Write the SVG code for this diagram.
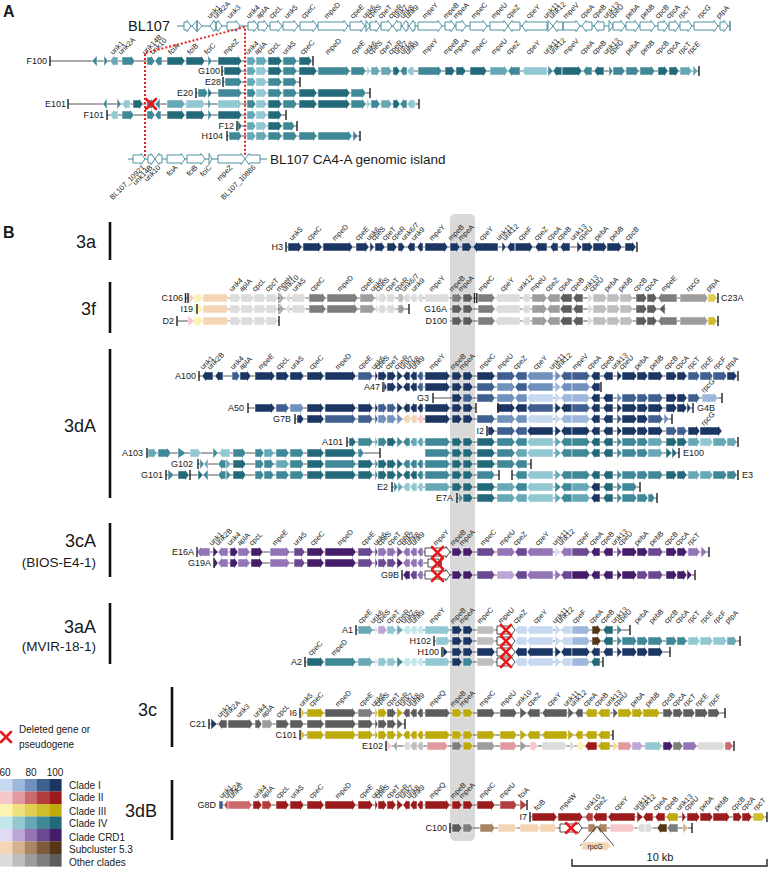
<svg xmlns="http://www.w3.org/2000/svg" width="769" height="869" viewBox="0 0 769 869">
<style>
text{font-family:"Liberation Sans",Arial,sans-serif;fill:#1a1a1a}
.gl text{font-size:7.3px;fill:#222}
.glE text{font-size:7.3px;fill:#222;text-anchor:end}
.nm{font-size:9px;text-anchor:end}
.ns{font-size:9px}
.gr{font-size:18px;text-anchor:end}
.gs{font-size:13.5px;text-anchor:end}
.pn{font-size:16px;font-weight:bold}
.lg{font-size:10px}
.r path,.r use{stroke:#fff;stroke-width:.5}
.ln,.r path.ln{stroke:#555;stroke-width:1;fill:none}
.tk,.r path.tk{stroke:#222;stroke-width:1.4;fill:none}
.bar{stroke:#111;stroke-width:2.6}
.r path.w{fill:#fff;stroke:#3f8797;stroke-width:.9}
.r .xb,.xb{fill:#fff;stroke:#222;stroke-width:.8}
.rx{stroke:#e8191c;stroke-width:2.6;stroke-linecap:round;fill:none}
.dt{stroke:#e3201b;stroke-width:2;stroke-dasharray:2 2;fill:none}
.b1{fill:#c6d9f0}.b2{fill:#9db8dc}.b3{fill:#7090be}.b4{fill:#3f5f90}.b5{fill:#1c3664}
.r1{fill:#f5c8cc}.r2{fill:#e19a9e}.r3{fill:#cb6a6c}.r4{fill:#b33c3d}.r5{fill:#9b1b1d}
.y1{fill:#fbf3b1}.y2{fill:#efe17d}.y3{fill:#dfce50}.y4{fill:#cfbd2c}.y5{fill:#bdab0c}
.t1{fill:#c2e7ed}.t2{fill:#92c8d2}.t3{fill:#66a8b6}.t4{fill:#3f8897}.t5{fill:#226a7a}
.p1{fill:#e2daf2}.p2{fill:#bca6d7}.p3{fill:#9375b7}.p4{fill:#6b4892}.p5{fill:#461d6b}
.s1{fill:#f4d6b6}.s2{fill:#d5b18f}.s3{fill:#aa8563}.s4{fill:#7e5c3b}.s5{fill:#553616}
.g1{fill:#dcdcdc}.g2{fill:#bebebe}.g3{fill:#9d9d9d}.g4{fill:#7e7e7e}.g5{fill:#5d5d5d}
</style>
<defs>
<path id="u1" d="M202 0L206 -5.5V-4H213V4H206V5.5z"/>
<path id="u2" d="M215 0L219 -5.5V-4H223V4H219V5.5z"/>
<path id="u4" d="M232 -4H236V-5.5L240 0L236 5.5V4H232z"/>
<path id="ap" d="M240 -4H247V-5.5L251 0L247 5.5V4H240z"/>
<path id="mE" d="M255 -4H271V-5.5L275 0L271 5.5V4H255z"/>
<path id="cL" d="M276 -4H285V-5.5L289 0L285 5.5V4H276z"/>
<path id="u5" d="M290 -4H300V-5.5L304 0L300 5.5V4H290z"/>
<path id="cC" d="M307 -4H320V-5.5L324 0L320 5.5V4H307z"/>
<path id="mD" d="M325 -4H352V-5.5L356 0L352 5.5V4H325z"/>
<path id="cE" d="M358 -4H369V-5.5L373 0L369 5.5V4H358z"/>
<path id="u6" d="M375 -5.5L378 0L375 5.5z"/>
<path id="cS" d="M378 -4H383V-5.5L387 0L383 5.5V4H378z"/>
<path id="cT" d="M387 -4H392V-5.5L396 0L392 5.5V4H387z"/>
<path id="cR" d="M397 -5.5L403 0L397 5.5z"/>
<path id="u7" d="M403 0L407 -5.5V-4H410V4H407V5.5z"/>
<path id="u8" d="M410 0L414 -5.5V-4H417V4H414V5.5z"/>
<path id="u9" d="M417 0L421 -5.5V-4H423V4H421V5.5z"/>
<path id="mY" d="M425 -4H446V-5.5L450 0L446 5.5V4H425z"/>
<path id="mB" d="M452 -4H458V-5.5L462 0L458 5.5V4H452z"/>
<path id="mA" d="M463 -4H469V-5.5L473 0L469 5.5V4H463z"/>
<path id="mC" d="M477 -4H491V-5.5L495 0L491 5.5V4H477z"/>
<path id="mU" d="M497 -4H511V-5.5L515 0L511 5.5V4H497z"/>
<path id="cZ" d="M515 0L519 -5.5V-4H527V4H519V5.5z"/>
<path id="cY" d="M527 0L531 -5.5V-4H553V4H531V5.5z"/>
<path id="u11" d="M555 -5.5L561 0L555 5.5z"/>
<path id="u12" d="M561 0L565 -5.5V-4H572V4H565V5.5z"/>
<path id="mV" d="M572 -4H586V-5.5L590 0L586 5.5V4H572z"/>
<path id="cA" d="M591 0L595 -5.5V-4H600V4H595V5.5z"/>
<path id="cB" d="M603 0L607 -5.5V-4H613V4H607V5.5z"/>
<path id="u13" d="M617 -5.5L622 0L617 5.5z"/>
<path id="cU" d="M622 -4H633V-5.5L637 0L633 5.5V4H622z"/>
<path id="pA" d="M637 -4H644V-5.5L648 0L644 5.5V4H637z"/>
<path id="pB" d="M648 -4H659V-5.5L663 0L659 5.5V4H648z"/>
<path id="bB" d="M666 -4H673V-5.5L677 0L673 5.5V4H666z"/>
<path id="bA" d="M677 -4H683V-5.5L687 0L683 5.5V4H677z"/>
<path id="rT" d="M688 -4H696V-5.5L700 0L696 5.5V4H688z"/>
<path id="rE" d="M700 -4H709V-5.5L713 0L709 5.5V4H700z"/>
<path id="rF" d="M713 -4H723V-5.5L727 0L723 5.5V4H713z"/>
<path id="pt" d="M727 -4H733V-5.5L737 0L733 5.5V4H727z"/>
<path id="cmU" d="M500 -4H513V-5.5L517 0L513 5.5V4H500z"/>
<path id="cu10" d="M520 -5.5L527 0L520 5.5z"/>
<path id="ccZ" d="M527 0L531 -5.5V-4H540V4H531V5.5z"/>
<path id="ccY" d="M542 0L546 -5.5V-4H567V4H546V5.5z"/>
<path id="cu11" d="M568 -5.5L574 0L568 5.5z"/>
<path id="cu12" d="M575 0L579 -5.5V-4H583V4H579V5.5z"/>
<path id="ccA" d="M585 0L589 -5.5V-4H597V4H589V5.5z"/>
<path id="ccB" d="M598 0L602 -5.5V-4H610V4H602V5.5z"/>
<path id="cu13" d="M613 -5.5L618 0L613 5.5z"/>
<path id="ccU" d="M618 -4H628V-5.5L632 0L628 5.5V4H618z"/>
<path id="cpA" d="M632 -4H639V-5.5L643 0L639 5.5V4H632z"/>
<path id="cpB" d="M643 -4H656V-5.5L660 0L656 5.5V4H643z"/>
<path id="cbB" d="M663 -4H669V-5.5L673 0L669 5.5V4H663z"/>
<path id="cbA" d="M673 -4H679V-5.5L683 0L679 5.5V4H673z"/>
<path id="crT" d="M683 -4H691V-5.5L695 0L691 5.5V4H683z"/>
<path id="crE" d="M695 -4H704V-5.5L708 0L704 5.5V4H695z"/>
<path id="crF" d="M708 -4H716V-5.5L720 0L716 5.5V4H708z"/>
<path id="a4" d="M247 -4H252V-5.5L256 0L252 5.5V4H247z"/>
<path id="aA" d="M256 -4H263V-5.5L267 0L263 5.5V4H256z"/>
<path id="aL" d="M268 -4H278V-5.5L282 0L278 5.5V4H268z"/>
<path id="a5" d="M283 -4H293V-5.5L297 0L293 5.5V4H283z"/>
<path id="aC" d="M299 -4H313V-5.5L317 0L313 5.5V4H299z"/>
<path id="aD" d="M318 -4H346V-5.5L350 0L346 5.5V4H318z"/>
<path id="aE" d="M351 -4H362V-5.5L366 0L362 5.5V4H351z"/>
<path id="aZ" d="M218 -4H238V-5.5L242 0L238 5.5V4H218z"/>
<path id="afA" d="M167 -4H181V-5.5L185 0L181 5.5V4H167z"/>
<path id="afB" d="M186 -4H201V-5.5L205 0L201 5.5V4H186z"/>
<path id="afC" d="M208 -5.5L212 0L208 5.5z"/>
<path id="a14" d="M147 -4H151V-5.5L155 0L151 5.5V4H147z"/>
<path id="a10" d="M155 0L159 -5.5V-4H162V4H159V5.5z"/>
<g id="f3L"><path class="y1" d="M194 -4H199V-5.5L203 0L199 5.5V4H194z"/><path class="s1" d="M203 -4H225V-5.5L229 0L225 5.5V4H203z"/><path class="g1" d="M230 -4H237V-5.5L241 0L237 5.5V4H230zM241 -4H250V-5.5L254 0L250 5.5V4H241zM254 -4H262V-5.5L266 0L262 5.5V4H254zM266 -4H274V-5.5L278 0L274 5.5V4H266z"/></g>
<g id="f3M"><path class="tk" d="M279 -5V5" style="stroke-width:.8"/><path class="g3" d="M280 -5.5L284 0L280 5.5z"/><path class="g1" d="M290 -5.5L285 0L290 5.5zM292 -4H302V-5.5L306 0L302 5.5V4H292zM376 -5.5L379 0L376 5.5zM379 -4H383V-5.5L387 0L383 5.5V4H379zM387 -4H392V-5.5L396 0L392 5.5V4H387z"/><path class="g4" d="M309 -4H322V-5.5L326 0L322 5.5V4H309zM327 -4H354V-5.5L358 0L354 5.5V4H327z"/><path class="g3" d="M360 -4H371V-5.5L375 0L371 5.5V4H360z"/></g>
<g id="f3R"><path class="g4" d="M478 -4H491V-5.5L495 0L491 5.5V4H478z"/><path class="g1" d="M495 0L499 -5.5V-4H520V4H499V5.5zM522 0L526 -5.5V-4H530V4H526V5.5zM588 -5.5L593 0L588 5.5z"/><path class="g3" d="M532 -4H543V-5.5L547 0L543 5.5V4H532zM547 0L551 -5.5V-4H560V4H551V5.5z"/><path class="g5" d="M560 0L564 -5.5V-4H572V4H564V5.5zM573 0L577 -5.5V-4H583V4H577V5.5zM636 -4H643V-5.5L647 0L643 5.5V4H636zM647 -4H653V-5.5L657 0L653 5.5V4H647z"/><path class="g2" d="M593 -4H603V-5.5L607 0L603 5.5V4H593zM607 -4H616V-5.5L620 0L616 5.5V4H607zM620 -4H629V-5.5L633 0L629 5.5V4H620z"/></g>
<path id="fmE" d="M658 0L662 -5.5V-4H677V4H662V5.5z"/>
<path id="frG" d="M680 -4H704V-5.5L708 0L704 5.5V4H680z"/>
<path id="fpt" d="M708 -4H713V-5.5L717 0L713 5.5V4H708z"/>
</defs>
<rect width="769" height="869" fill="#fff"/>

<!-- Panel A -->
<text class="pn" x="3" y="17">A</text>
<text x="170" y="31" style="font-size:14.5px;text-anchor:end">BL107</text>
<g id="BL107" class="r" transform="translate(0,26)">
<path class="ln" d="M177 0H730" style="stroke:#3f8797"/>
<path class="w" d="M184 -4H187V-5.5L191 0L187 5.5V4H184zM197 -5.5L192 0L197 5.5zM197 -5.5L202 0L197 5.5zM210 0L214 -5.5V-4H216V4H214V5.5zM216 -4H218V-5.5L222 0L218 5.5V4H216zM227 -4H236V-5.5L240 0L236 5.5V4H227zM248 -4H254V-5.5L258 0L254 5.5V4H248zM258 -4H264V-5.5L268 0L264 5.5V4H258zM270 -4H278V-5.5L282 0L278 5.5V4H270zM283 -4H294V-5.5L298 0L294 5.5V4H283zM300 -4H313V-5.5L317 0L313 5.5V4H300zM318 -4H344V-5.5L348 0L344 5.5V4H318zM350 -4H361V-5.5L365 0L361 5.5V4H350zM366 -5.5L370 0L366 5.5zM370 -4H376V-5.5L380 0L376 5.5V4H370zM381 -4H388V-5.5L392 0L388 5.5V4H381zM393 0L397 -5.5V-4H401V4H397V5.5zM402 0L406 -5.5V-4H408V4H406V5.5zM409 0L413 -5.5V-4H415V4H413V5.5zM418 -4H438V-5.5L442 0L438 5.5V4H418zM445 -4H451V-5.5L455 0L451 5.5V4H445zM456 -4H462V-5.5L466 0L462 5.5V4H456zM470 -4H483V-5.5L487 0L483 5.5V4H470zM490 -4H504V-5.5L508 0L504 5.5V4H490zM508 0L512 -5.5V-4H520V4H512V5.5zM522 0L526 -5.5V-4H547V4H526V5.5zM548 -5.5L553 0L548 5.5zM553 0L557 -5.5V-4H563V4H557V5.5zM563 -4H576V-5.5L580 0L576 5.5V4H563zM582 0L586 -5.5V-4H592V4H586V5.5zM594 0L598 -5.5V-4H604V4H598V5.5zM609 -5.5L613 0L609 5.5zM613 -4H621V-5.5L625 0L621 5.5V4H613zM626 -4H635V-5.5L639 0L635 5.5V4H626zM640 -4H651V-5.5L655 0L651 5.5V4H640zM658 -4H664V-5.5L668 0L664 5.5V4H658zM669 -4H675V-5.5L679 0L675 5.5V4H669zM680 -4H688V-5.5L692 0L688 5.5V4H680zM694 -4H714V-5.5L718 0L714 5.5V4H694zM720 -4H724V-5.5L728 0L724 5.5V4H720z"/>
<path class="tk" d="M730 -5V5" style="stroke:#3f8797"/>
</g>
<g class="gl" transform="translate(0,19)">
<text transform="translate(210) rotate(-45)">unk1</text><text transform="translate(216) rotate(-45)">unk2A</text><text transform="translate(230) rotate(-45)">unk3</text><text transform="translate(249) rotate(-45)">unk4</text><text transform="translate(259) rotate(-45)">aplA</text><text transform="translate(272) rotate(-45)">cpcL</text><text transform="translate(287) rotate(-45)">unk5</text><text transform="translate(304) rotate(-45)">cpeC</text><text transform="translate(327) rotate(-45)">mpeD</text><text transform="translate(353) rotate(-45)">cpeE</text><text transform="translate(365) rotate(-45)">unk6</text><text transform="translate(370) rotate(-45)">cpeS</text><text transform="translate(381) rotate(-45)">cpeT</text><text transform="translate(391) rotate(-45)">cpeR</text><text transform="translate(397) rotate(-45)">unk7</text><text transform="translate(403) rotate(-45)">unk8</text><text transform="translate(408) rotate(-45)">unk9</text><text transform="translate(425) rotate(-45)">mpeY</text><text transform="translate(446) rotate(-45)">mpeB</text><text transform="translate(456) rotate(-45)">mpeA</text><text transform="translate(474) rotate(-45)">mpeC</text><text transform="translate(494) rotate(-45)">mpeU</text><text transform="translate(509) rotate(-45)">cpeZ</text><text transform="translate(529) rotate(-45)">cpeY</text><text transform="translate(546) rotate(-45)">unk11</text><text transform="translate(552) rotate(-45)">unk12</text><text transform="translate(566) rotate(-45)">mpeV</text><text transform="translate(583) rotate(-45)">cpeA</text><text transform="translate(595) rotate(-45)">cpeB</text><text transform="translate(606) rotate(-45)">unk13</text><text transform="translate(612) rotate(-45)">cpeU</text><text transform="translate(628) rotate(-45)">pebA</text><text transform="translate(643) rotate(-45)">pebB</text><text transform="translate(658) rotate(-45)">cpcB</text><text transform="translate(669) rotate(-45)">cpcA</text><text transform="translate(681) rotate(-45)">rpcT</text><text transform="translate(700) rotate(-45)">rpcG</text><text transform="translate(719) rotate(-45)">ptpA</text>
</g>
<g class="gl" transform="translate(0,55)">
<text transform="translate(113) rotate(-45)">unk1</text><text transform="translate(121) rotate(-45)">unk2A</text><text transform="translate(145) rotate(-45)">unk14B</text><text transform="translate(153) rotate(-45)">unk10</text><text transform="translate(171) rotate(-45)">fciA</text><text transform="translate(190) rotate(-45)">fciB</text><text transform="translate(207) rotate(-45)">fciC</text><text transform="translate(226) rotate(-45)">mpeZ</text><text transform="translate(248) rotate(-45)">unk4</text><text transform="translate(257) rotate(-45)">aplA</text><text transform="translate(270) rotate(-45)">cpcL</text><text transform="translate(285) rotate(-45)">unk5</text><text transform="translate(303) rotate(-45)">cpeC</text><text transform="translate(328) rotate(-45)">mpeD</text><text transform="translate(354) rotate(-45)">cpeE</text><text transform="translate(366) rotate(-45)">unk6</text><text transform="translate(371) rotate(-45)">cpeS</text><text transform="translate(382) rotate(-45)">cpeT</text><text transform="translate(391) rotate(-45)">cpeR</text><text transform="translate(397) rotate(-45)">unk7</text><text transform="translate(403) rotate(-45)">unk8</text><text transform="translate(408) rotate(-45)">unk9</text><text transform="translate(425) rotate(-45)">mpeY</text><text transform="translate(446) rotate(-45)">mpeB</text><text transform="translate(456) rotate(-45)">mpeA</text><text transform="translate(474) rotate(-45)">mpeC</text><text transform="translate(494) rotate(-45)">mpeU</text><text transform="translate(509) rotate(-45)">cpeZ</text><text transform="translate(529) rotate(-45)">cpeY</text><text transform="translate(546) rotate(-45)">unk11</text><text transform="translate(552) rotate(-45)">unk12</text><text transform="translate(566) rotate(-45)">mpeV</text><text transform="translate(583) rotate(-45)">cpeA</text><text transform="translate(595) rotate(-45)">cpeB</text><text transform="translate(606) rotate(-45)">unk13</text><text transform="translate(612) rotate(-45)">cpeU</text><text transform="translate(628) rotate(-45)">pebA</text><text transform="translate(643) rotate(-45)">pebB</text><text transform="translate(658) rotate(-45)">cpcB</text><text transform="translate(669) rotate(-45)">cpcA</text><text transform="translate(681) rotate(-45)">rpcT</text><text transform="translate(690) rotate(-45)">rpcE</text>
</g>
<g id="F100" class="r t4" transform="translate(0,61)">
<path class="ln" d="M50 0H313"/>
<path d="M97 -5.5L92 0L97 5.5zM104 -5.5L108 0L104 5.5zM122 -4H131V-5.5L135 0L131 5.5V4H122z"/>
<path class="t3" d="M110 0L114 -5.5V-4H118V4H114V5.5z"/>
<use href="#a14"/><use href="#a10"/><use href="#afA" class="t5"/><use href="#afB" class="t5"/><use href="#afC"/><use href="#aZ" class="t5"/><use href="#a4" class="t3"/><use href="#aA" class="t3"/><use href="#aL" class="t5"/><use href="#a5"/>
<path class="t5" d="M299 -4H308V-5.5L312 0L308 5.5V4H299z"/>
<path class="tk" d="M50 -5V5M313 -5V5"/>
<text class="nm" x="47" y="3">F100</text>
</g>
<g id="G100" class="r t4" transform="translate(0,71)">
<path class="ln" d="M222 0H699"/>
<path class="t5" d="M224 -4H238V-5.5L242 0L238 5.5V4H224zM393 -4H396V-5.5L400 0L396 5.5V4H393zM445 -4H451V-5.5L455 0L451 5.5V4H445zM456 -4H462V-5.5L466 0L462 5.5V4H456zM470 -4H483V-5.5L487 0L483 5.5V4H470zM553 0L557 -5.5V-4H562V4H557V5.5zM562 -4H578V-5.5L582 0L578 5.5V4H562zM594 0L598 -5.5V-4H604V4H598V5.5zM658 -4H664V-5.5L668 0L664 5.5V4H658zM669 -4H675V-5.5L679 0L675 5.5V4H669z"/>
<path d="M400 0L404 -5.5V-4H407V4H404V5.5zM418 -4H438V-5.5L442 0L438 5.5V4H418zM508 0L512 -5.5V-4H520V4H512V5.5zM548 -5.5L553 0L548 5.5zM583 0L587 -5.5V-4H592V4H587V5.5zM609 -5.5L613 0L609 5.5zM613 -4H621V-5.5L625 0L621 5.5V4H613zM626 -4H635V-5.5L639 0L635 5.5V4H626zM640 -4H651V-5.5L655 0L651 5.5V4H640z"/>
<path class="t3" d="M371 -4H376V-5.5L380 0L376 5.5V4H371zM381 -4H388V-5.5L392 0L388 5.5V4H381zM490 -4H504V-5.5L508 0L504 5.5V4H490zM680 -4H688V-5.5L692 0L688 5.5V4H680zM693 -5.5L698 0L693 5.5z"/>
<path class="t2" d="M367 -5.5L370 0L367 5.5zM407 0L411 -5.5V-4H414V4H411V5.5zM522 0L526 -5.5V-4H547V4H526V5.5z"/>
<use href="#a4" class="t3"/><use href="#aA" class="t2"/><use href="#aL" class="t5"/><use href="#a5"/><use href="#aC" class="t5"/><use href="#aD"/><use href="#aE"/>
<path class="tk" d="M222 -5V5M699 -5V5"/>
<text class="nm" x="220" y="3">G100</text>
</g>
<g id="E28" class="r t4" transform="translate(0,82)">
<path class="ln" d="M223 0H300"/>
<path d="M225 -4H238V-5.5L242 0L238 5.5V4H225z"/>
<use href="#a4" class="t3"/><use href="#aA" class="t2"/><use href="#aL"/><use href="#a5"/>
<path class="tk" d="M223 -5V5M300 -5V5"/>
<text class="nm" x="221" y="3">E28</text>
</g>
<g id="E20" class="r t4" transform="translate(0,93)">
<path class="ln" d="M196 0H370"/>
<path d="M198 -4H204V-5.5L208 0L204 5.5V4H198z"/>
<use href="#afC" class="t5"/><use href="#aZ"/><use href="#a4"/><use href="#aA" class="t2"/><use href="#aL"/><use href="#a5"/><use href="#aC" class="t5"/><use href="#aD" class="t5"/><use href="#aE"/>
<path class="tk" d="M196 -5V5M370 -5V5"/>
<text class="nm" x="193" y="3">E20</text>
</g>
<g id="E101" class="r t4" transform="translate(0,104)">
<path class="ln" d="M68 0H419"/>
<path d="M107 -5.5L103 0L107 5.5zM117 -5.5L121 0L117 5.5zM160 -5.5L155 0L160 5.5zM208 -5.5L211 0L208 5.5zM371 -4H376V-5.5L380 0L376 5.5V4H371zM400 0L404 -5.5V-4H407V4H404V5.5z"/>
<path class="t2" d="M122 0L126 -5.5V-4H130V4H126V5.5zM367 -5.5L370 0L367 5.5zM407 0L411 -5.5V-4H415V4H411V5.5z"/>
<path class="t5" d="M133 -4H139V-5.5L143 0L139 5.5V4H133zM393 -4H396V-5.5L400 0L396 5.5V4H393z"/>
<path class="t3" d="M381 -4H388V-5.5L392 0L388 5.5V4H381z"/>
<use href="#a14"/><use href="#afA" class="t3"/><use href="#afB" class="t2"/><use href="#aZ" class="t2"/><use href="#a4"/><use href="#aA" class="t2"/><use href="#aL" class="t5"/><use href="#a5"/><use href="#aC" class="t5"/><use href="#aD" class="t5"/><use href="#aE"/>
<path class="tk" d="M68 -5V5M419 -5V5"/>
<text class="nm" x="66" y="3">E101</text>
</g>
<g id="F101" class="r t4" transform="translate(0,115)">
<path class="ln" d="M107 0H286"/>
<path class="t2" d="M110 0L114 -5.5V-4H118V4H114V5.5z"/>
<path d="M122 -4H130V-5.5L134 0L130 5.5V4H122zM155 0L159 -5.5V-4H161V4H159V5.5z"/>
<use href="#a14"/><use href="#afA" class="t5"/><use href="#afB" class="t5"/><use href="#afC"/><use href="#aZ" class="t5"/><use href="#a4" class="t3"/><use href="#aA" class="t2"/><use href="#aL" class="t5"/>
<path class="tk" d="M107 -5V5M286 -5V5"/>
<text class="nm" x="104" y="3">F101</text>
</g>
<g id="F12" class="r t4" transform="translate(0,126)">
<path class="ln" d="M237 0H297"/>
<path class="t5" d="M238 -5.5L242 0L238 5.5z"/>
<use href="#a4" class="t3"/><use href="#aA" class="t2"/><use href="#aL" class="t5"/>
<path d="M283 -4H291V-5.5L295 0L291 5.5V4H283z"/>
<path class="tk" d="M237 -5V5M297 -5V5"/>
<text class="nm" x="234" y="3">F12</text>
</g>
<g id="H104" class="r t4" transform="translate(0,136)">
<path class="ln" d="M227 0H360"/>
<path d="M229 -4H238V-5.5L242 0L238 5.5V4H229zM318 -4H348V-5.5L352 0L348 5.5V4H318zM353 -5.5L358 0L353 5.5z"/>
<use href="#a4" class="t3"/><use href="#aA" class="t3"/><use href="#aL"/><use href="#a5"/><use href="#aC"/>
<path class="tk" d="M227 -5V5M360 -5V5"/>
<text class="nm" x="223" y="3">H104</text>
</g>
<g id="island" class="r" transform="translate(0,159)">
<path class="ln" d="M128 0H267" style="stroke:#3f8797"/>
<path class="w" d="M133 -4H141V-5.5L145 0L141 5.5V4H133zM148 -4H151V-5.5L155 0L151 5.5V4H148zM155 0L159 -5.5V-4H162V4H159V5.5zM167 -4H181V-5.5L185 0L181 5.5V4H167zM187 -4H201V-5.5L205 0L201 5.5V4H187zM209 -5.5L212 0L209 5.5zM218 -4H241V-5.5L245 0L241 5.5V4H218zM245 0L249 -5.5V-4H260V4H249V5.5z"/>
</g>
<text x="270" y="164" style="font-size:13.5px">BL107 CA4-A genomic island</text>
<g class="glE" transform="translate(0,168)">
<text transform="translate(145) rotate(-45)">BL107_10921</text><text transform="translate(153) rotate(-45)">unk14B</text><text transform="translate(161) rotate(-45)">unk10</text><text transform="translate(178) rotate(-45)">fciA</text><text transform="translate(198) rotate(-45)">fciB</text><text transform="translate(212) rotate(-45)">fciC</text><text transform="translate(233) rotate(-45)">mpeZ</text><text transform="translate(256) rotate(-45)">BL107_10886</text>
</g>
<path class="dt" d="M145 156V53L245 27V156"/>
<path class="rx" d="M146 99l10 10m0-10l-10 10"/>

<!-- Panel B -->
<text class="pn" x="3" y="238">B</text>
<rect x="450" y="214" width="25" height="627" rx="5" fill="#d9d9d9"/>
<path class="bar" d="M110 222V260M110 282V333M110 349V498M110 523V577M110 603V664M172 687V747M172 780V840"/>
<text class="gr" x="96" y="248">3a</text>
<text class="gr" x="96" y="315">3f</text>
<text class="gr" x="96" y="432">3dA</text>
<text class="gr" x="96" y="547">3cA</text>
<text class="gs" x="96" y="567">(BIOS-E4-1)</text>
<text class="gr" x="96" y="633">3aA</text>
<text class="gs" x="96" y="651">(MVIR-18-1)</text>
<text class="gr" x="157" y="716">3c</text>
<text class="gr" x="157" y="817">3dB</text>

<g id="H3" class="r b5" transform="translate(0,247)">
<path class="ln" d="M286 0H637"/>
<path d="M288 -4H298V-5.5L302 0L298 5.5V4H288zM303 -4H318V-5.5L322 0L318 5.5V4H303zM323 -4H349V-5.5L353 0L349 5.5V4H323zM356 -4H365V-5.5L369 0L365 5.5V4H356zM370 -5.5L374 0L370 5.5zM375 -4H381V-5.5L385 0L381 5.5V4H375zM387 -4H393V-5.5L397 0L393 5.5V4H387zM398 -4H401V-5.5L405 0L401 5.5V4H398zM407 0L411 -5.5V-4H415V4H411V5.5zM417 0L421 -5.5V-4H423V4H421V5.5zM425 -4H444V-5.5L448 0L444 5.5V4H425zM450 -4H456V-5.5L460 0L456 5.5V4H450zM462 -4H468V-5.5L472 0L468 5.5V4H462zM473 0L477 -5.5V-4H498V4H477V5.5zM502 -5.5L506 0L502 5.5zM507 0L511 -5.5V-4H515V4H511V5.5zM515 -4H529V-5.5L533 0L529 5.5V4H515zM535 0L539 -5.5V-4H547V4H539V5.5zM550 0L554 -5.5V-4H558V4H554V5.5zM560 0L564 -5.5V-4H570V4H564V5.5zM577 -5.5L582 0L577 5.5zM582 -4H589V-5.5L593 0L589 5.5V4H582zM593 -4H603V-5.5L607 0L603 5.5V4H593zM607 -4H618V-5.5L622 0L618 5.5V4H607zM625 -4H632V-5.5L636 0L632 5.5V4H625z"/>
<path class="tk" d="M286 -5V5M637 -5V5"/>
<text class="nm" x="283" y="3">H3</text>
</g>
<g class="gl" transform="translate(0,241)">
<text transform="translate(292) rotate(-45)">unk5</text><text transform="translate(310) rotate(-45)">cpeC</text><text transform="translate(335) rotate(-45)">mpeD</text><text transform="translate(358) rotate(-45)">cpeE</text><text transform="translate(369) rotate(-45)">unk6</text><text transform="translate(374) rotate(-45)">cpeS</text><text transform="translate(385) rotate(-45)">cpeT</text><text transform="translate(394) rotate(-45)">cpeR</text><text transform="translate(404) rotate(-45)">unk6/7</text><text transform="translate(414) rotate(-45)">unk9</text><text transform="translate(432) rotate(-45)">mpeY</text><text transform="translate(451) rotate(-45)">mpeB</text><text transform="translate(461) rotate(-45)">mpeA</text><text transform="translate(482) rotate(-45)">cpeY</text><text transform="translate(499) rotate(-45)">unk11</text><text transform="translate(505) rotate(-45)">unk12</text><text transform="translate(521) rotate(-45)">cpeF</text><text transform="translate(537) rotate(-45)">cpeZ</text><text transform="translate(550) rotate(-45)">cpeA</text><text transform="translate(560) rotate(-45)">cpeB</text><text transform="translate(573) rotate(-45)">unk13</text><text transform="translate(581) rotate(-45)">cpeU</text><text transform="translate(597) rotate(-45)">pebA</text><text transform="translate(612) rotate(-45)">pebB</text><text transform="translate(628) rotate(-45)">cpcB</text>
</g>

<g id="C106" class="r g1" transform="translate(0,298)">
<path class="ln" d="M186 0H718"/>
<path class="r1" d="M189 -5.5L194 0L189 5.5z"/>
<use href="#f3L"/><use href="#f3M"/>
<path class="g2" d="M398 -4H401V-5.5L405 0L401 5.5V4H398z"/>
<use href="#u7"/><use href="#u8"/><use href="#u9"/><use href="#mY"/><use href="#mB" class="g4"/><use href="#mA" class="g5"/>
<use href="#f3R"/><use href="#fmE" class="g4"/><use href="#frG" class="g3"/><use href="#fpt" class="y3"/>
<path class="tk" d="M185.5 -5V5M188 -5V5M474.5 -5V5M476.8 -5V5M718 -5V5"/>
<text class="nm" x="183" y="3">C106</text>
<text class="ns" x="721" y="3">C23A</text>
</g>
<g id="I19" class="r g1" transform="translate(0,309)">
<path class="ln" d="M197 0H409M450 0H666"/>
<use href="#f3L"/><use href="#f3M"/>
<path class="g3" d="M398 -4H401V-5.5L405 0L401 5.5V4H398z"/>
<use href="#mB" class="g5"/><use href="#mA" class="g5"/><use href="#f3R"/>
<path class="g5" d="M665 -5.5L659 0L665 5.5z"/>
<path class="tk" d="M197 -5V5M409 -5V5"/>
<text class="nm" x="193" y="3">I19</text>
<text class="nm" x="447" y="3">G16A</text>
</g>
<g id="D2" class="r g1" transform="translate(0,321)">
<path class="ln" d="M177 0H279M450 0H718"/>
<path class="r1" d="M188 -5.5L194 0L188 5.5z"/>
<use href="#f3L"/>
<use href="#mB" class="g5"/><use href="#mA" class="g5"/><use href="#f3R"/><use href="#fmE" class="g4"/><use href="#frG" class="g3"/><use href="#fpt" class="y4"/>
<path class="tk" d="M177 -5V5M279 -5V5M718 -5V5"/>
<text class="nm" x="174" y="3">D2</text>
<text class="nm" x="447" y="3">D100</text>
</g>
<g class="gl" transform="translate(0,292)">
<text transform="translate(232) rotate(-45)">unk4</text><text transform="translate(242) rotate(-45)">aplA</text><text transform="translate(255) rotate(-45)">cpcL</text><text transform="translate(268) rotate(-45)">cpcT</text><text transform="translate(279) rotate(-45)">mpeH</text><text transform="translate(285) rotate(-45)">unk10</text><text transform="translate(295) rotate(-45)">unk5</text><text transform="translate(313) rotate(-45)">cpeC</text><text transform="translate(340) rotate(-45)">mpeD</text><text transform="translate(363) rotate(-45)">cpeE</text><text transform="translate(373) rotate(-45)">unk6</text><text transform="translate(378) rotate(-45)">cpeS</text><text transform="translate(388) rotate(-45)">cpeT</text><text transform="translate(397) rotate(-45)">cpeR</text><text transform="translate(404) rotate(-45)">unk6/7</text><text transform="translate(414) rotate(-45)">unk9</text><text transform="translate(432) rotate(-45)">mpeY</text><text transform="translate(452) rotate(-45)">mpeB</text><text transform="translate(461) rotate(-45)">mpeA</text><text transform="translate(481) rotate(-45)">mpeC</text><text transform="translate(503) rotate(-45)">cpeY</text><text transform="translate(520) rotate(-45)">unk12</text><text transform="translate(533) rotate(-45)">mpeU</text><text transform="translate(548) rotate(-45)">cpeZ</text><text transform="translate(561) rotate(-45)">cpeA</text><text transform="translate(573) rotate(-45)">cpeB</text><text transform="translate(585) rotate(-45)">unk13</text><text transform="translate(592) rotate(-45)">cpeU</text><text transform="translate(607) rotate(-45)">pebA</text><text transform="translate(621) rotate(-45)">pebB</text><text transform="translate(636) rotate(-45)">cpcB</text><text transform="translate(647) rotate(-45)">cpcA</text><text transform="translate(664) rotate(-45)">mpeE</text><text transform="translate(689) rotate(-45)">rpcG</text><text transform="translate(709) rotate(-45)">ptpA</text>
</g>

<g class="gl" transform="translate(0,370)">
<text transform="translate(203) rotate(-45)">unk1</text><text transform="translate(210) rotate(-45)">unk2B</text><text transform="translate(233) rotate(-45)">unk4</text><text transform="translate(242) rotate(-45)">aplA</text><text transform="translate(261) rotate(-45)">mpeE</text><text transform="translate(279) rotate(-45)">cpcL</text><text transform="translate(293) rotate(-45)">unk5</text><text transform="translate(312) rotate(-45)">cpeC</text><text transform="translate(338) rotate(-45)">mpeD</text><text transform="translate(361) rotate(-45)">cpeE</text><text transform="translate(374) rotate(-45)">unk6</text><text transform="translate(378) rotate(-45)">cpeS</text><text transform="translate(388) rotate(-45)">cpeT</text><text transform="translate(397) rotate(-45)">cpeR</text><text transform="translate(403) rotate(-45)">unk7</text><text transform="translate(409) rotate(-45)">unk8</text><text transform="translate(414) rotate(-45)">unk9</text><text transform="translate(432) rotate(-45)">mpeY</text><text transform="translate(453) rotate(-45)">mpeB</text><text transform="translate(462) rotate(-45)">mpeA</text><text transform="translate(482) rotate(-45)">mpeC</text><text transform="translate(500) rotate(-45)">mpeU</text><text transform="translate(516) rotate(-45)">cpeZ</text><text transform="translate(536) rotate(-45)">cpeY</text><text transform="translate(552) rotate(-45)">unk11</text><text transform="translate(558) rotate(-45)">unk12</text><text transform="translate(575) rotate(-45)">mpeV</text><text transform="translate(590) rotate(-45)">cpeA</text><text transform="translate(603) rotate(-45)">cpeB</text><text transform="translate(614) rotate(-45)">unk13</text><text transform="translate(622) rotate(-45)">cpeU</text><text transform="translate(637) rotate(-45)">pebA</text><text transform="translate(652) rotate(-45)">pebB</text><text transform="translate(667) rotate(-45)">cpcB</text><text transform="translate(678) rotate(-45)">cpcA</text><text transform="translate(690) rotate(-45)">rpcT</text><text transform="translate(703) rotate(-45)">rpcE</text><text transform="translate(716) rotate(-45)">rpcF</text><text transform="translate(728) rotate(-45)">ptpA</text>
</g>
<g class="gl"><text transform="translate(704,393) rotate(-45)">rpcG</text><text transform="translate(704,426) rotate(-45)">rpcG</text></g>
<g id="A100" class="r b5" transform="translate(0,376)">
<path class="ln" d="M199 0H738"/>
<use href="#u1"/><use href="#u2"/><use href="#u4" class="b4"/><use href="#ap"/><use href="#mE"/><use href="#cL"/><use href="#u5"/><use href="#cC"/><use href="#mD"/><use href="#cE" class="b4"/><use href="#u6"/><use href="#cS"/><use href="#cT"/><use href="#cR"/><use href="#u7"/><use href="#u8"/><use href="#u9" class="b4"/><use href="#mY"/><use href="#mB"/><use href="#mA"/><use href="#mC"/><use href="#mU" class="b4"/><use href="#cZ" class="b4"/><use href="#cY" class="b3"/><use href="#u11" class="b3"/><use href="#u12" class="b4"/><use href="#mV" class="b4"/><use href="#cA"/><use href="#cB"/><use href="#u13"/><use href="#cU"/><use href="#pA"/><use href="#pB"/><use href="#bB"/><use href="#bA"/><use href="#rT" class="b4"/><use href="#rE" class="b4"/><use href="#rF" class="b4"/><use href="#pt"/>
<path class="tk" d="M199 -5V5M738 -5V5"/>
<text class="nm" x="196" y="3">A100</text>
</g>
<g id="A47" class="r b5" transform="translate(0,387)">
<path class="ln" d="M383 0H601"/>
<path d="M384 -5.5L387 0L384 5.5z"/>
<use href="#cT"/><use href="#cR"/><use href="#u7"/><use href="#u8"/><use href="#u9" class="b4"/><use href="#mY"/><use href="#mB"/><use href="#mA"/><use href="#mC" class="b4"/><use href="#mU" class="b3"/><use href="#cZ" class="b4"/><use href="#cY" class="b3"/><use href="#u11" class="b2"/><use href="#u12" class="b3"/><use href="#mV" class="b3"/><use href="#cA"/>
<path class="tk" d="M383 -5V5M601 -5V5"/>
<text class="nm" x="380" y="3">A47</text>
</g>
<g id="G3" class="r b5" transform="translate(0,398)">
<path class="ln" d="M433 0H722"/>
<use href="#mB"/><use href="#mA" class="b4"/><use href="#mC" class="b4"/><use href="#mU" class="b3"/><use href="#cZ" class="b3"/><use href="#cY" class="b1"/><use href="#u11" class="b1"/><use href="#u12" class="b2"/><use href="#mV" class="b2"/><use href="#cA"/><use href="#cB"/><use href="#u13" class="b3"/><use href="#cU" class="b4"/><use href="#pA" class="b4"/><use href="#pB" class="b4"/><use href="#bB"/><use href="#bA"/><use href="#rT" class="b4"/>
<path class="b2" d="M702 -4H714V-5.5L718 0L714 5.5V4H702z"/>
<path class="tk" d="M433 -5V5M722 -5V5"/>
<text class="nm" x="429" y="3">G3</text>
</g>
<g id="A50" class="r b5" transform="translate(0,408)">
<path class="ln" d="M248 0H476M498 0H693"/>
<use href="#mE"/><use href="#cL" class="b4"/><use href="#u5" class="b3"/><use href="#cC"/><use href="#mD"/><use href="#cE"/><use href="#u6"/><use href="#cS" class="b4"/><use href="#cT" class="b4"/><use href="#cR"/><use href="#u7"/><use href="#u8"/><use href="#u9"/><use href="#mY"/><use href="#mB"/><use href="#mA"/>
<use href="#mU"/><use href="#cZ"/><use href="#cY" class="b4"/><use href="#u11"/><use href="#u12"/><use href="#mV" class="b4"/><use href="#cA"/><use href="#cB"/><use href="#u13"/><use href="#cU"/><use href="#pA"/><use href="#pB"/><use href="#bB"/><use href="#bA"/>
<path d="M687 -5.5L691 0L687 5.5z"/>
<path class="tk" d="M248 -5V5M476 -5V5M498 -5V5M693 -5V5"/>
<text class="nm" x="244" y="3">A50</text>
<text class="ns" x="697" y="3">G4B</text>
</g>
<g id="G7B" class="r b5" transform="translate(0,419)">
<path class="ln" d="M295 0H672"/>
<path d="M297 -4H300V-5.5L304 0L300 5.5V4H297z"/>
<use href="#cC"/><use href="#mD" class="b4"/><use href="#cE" class="b4"/><use href="#u6" class="b4"/><use href="#cS" class="b3"/><use href="#cT" class="b3"/><use href="#cR" class="b3"/><use href="#u7" class="s1"/><use href="#u8" class="s1"/><use href="#u9" class="r1"/><use href="#mY"/><use href="#mB"/><use href="#mA"/><use href="#mC" class="b4"/><use href="#mU" class="b3"/><use href="#cZ" class="b3"/><use href="#cY" class="b1"/><use href="#u11" class="b1"/><use href="#u12" class="b2"/><use href="#mV" class="b2"/><use href="#cA"/><use href="#cB"/><use href="#u13" class="b4"/><use href="#cU"/><use href="#pA"/><use href="#pB" class="b4"/>
<path class="b3" d="M664 -5.5L669 0L664 5.5z"/>
<path class="tk" d="M295 -5V5M672 -5V5"/>
<text class="nm" x="291" y="3">G7B</text>
</g>
<g id="I2" class="r b5" transform="translate(0,431)">
<path class="ln" d="M487 0H722"/>
<path d="M488 -4H491V-5.5L495 0L491 5.5V4H488z"/>
<use href="#mU" class="b4"/><use href="#cZ" class="b4"/><use href="#cY"/><use href="#u11"/><use href="#u12"/><use href="#mV"/><use href="#cA"/><use href="#cB"/><use href="#u13"/><use href="#cU"/><use href="#pA"/><use href="#pB"/><use href="#bB" class="b4"/><use href="#bA" class="b4"/><use href="#rT"/>
<path d="M700 -4H718V-5.5L722 0L718 5.5V4H700z"/>
<path class="tk" d="M487 -5V5"/>
<text class="nm" x="484" y="3">I2</text>
</g>
<g id="A101" class="r t4" transform="translate(0,442)">
<path class="ln" d="M347 0H738"/>
<path class="t5" d="M349 -4H352V-5.5L356 0L352 5.5V4H349z"/>
<use href="#cE"/><use href="#u6" class="t3"/><use href="#cS"/><use href="#cT" class="t5"/><use href="#cR"/><use href="#u7"/><use href="#u8" class="t3"/><use href="#u9" class="t3"/><use href="#mY"/><use href="#mB" class="t5"/><use href="#mA" class="t5"/><use href="#mC" class="t5"/><use href="#mU"/><use href="#cZ"/><use href="#cY" class="t2"/><use href="#u11" class="t3"/><use href="#u12"/><use href="#mV"/><use href="#cA" class="t5"/><use href="#cB" class="t5"/><use href="#u13"/><use href="#cU"/><use href="#pA"/><use href="#pB" class="t3"/><use href="#bB" class="t5"/><use href="#bA" class="t5"/><use href="#rT" class="t3"/><use href="#rE" class="t2"/><use href="#rF" class="t3"/><use href="#pt" class="t3"/>
<path class="tk" d="M347 -5V5M738 -5V5"/>
<text class="nm" x="343" y="3">A101</text>
</g>
<g id="A103" class="r t4" transform="translate(0,453)">
<path class="ln" d="M147 0H380M425 0H679"/>
<path class="t3" d="M148 -4H153V-5.5L157 0L153 5.5V4H148zM264 -4H270V-5.5L274 0L270 5.5V4H264z"/>
<path d="M158 -4H167V-5.5L171 0L167 5.5V4H158zM178 -5.5L186 0L178 5.5zM213 -5.5L218 0L213 5.5zM233 -4H242V-5.5L246 0L242 5.5V4H233zM255 -4H260V-5.5L264 0L260 5.5V4H255zM358 -4H360V-5.5L364 0L360 5.5V4H358z"/>
<path class="t2" d="M190 -4H197V-5.5L201 0L197 5.5V4H190zM219 0L223 -5.5V-4H230V4H223V5.5z"/>
<use href="#cL"/><use href="#u5"/><use href="#cC" class="t5"/><use href="#mD" class="t5"/>
<use href="#mY"/><use href="#mB" class="t5"/><use href="#mA" class="t5"/><use href="#mC" class="t5"/><use href="#mU"/><use href="#cZ" class="t3"/><use href="#cY" class="t2"/><use href="#u11" class="t3"/><use href="#u12"/><use href="#mV"/><use href="#cA" class="t5"/><use href="#cB" class="t5"/><use href="#u13"/><use href="#cU"/><use href="#pA"/><use href="#pB" class="t3"/>
<path class="t5" d="M666 -5.5L672 0L666 5.5zM672 -5.5L677 0L672 5.5z"/>
<path class="tk" d="M147 -5V5M380 -5V5M679 -5V5"/>
<text class="nm" x="143" y="3">A103</text>
<text class="ns" x="683" y="3">E100</text>
</g>
<g id="G102" class="r t4" transform="translate(0,464)">
<path class="ln" d="M198 0H531"/>
<path d="M200 -5.5L204 0L200 5.5zM218 0L222 -5.5V-4H226V4H222V5.5zM255 -4H260V-5.5L264 0L260 5.5V4H255zM264 -4H270V-5.5L274 0L270 5.5V4H264z"/>
<path class="t3" d="M208 -5.5L204 0L208 5.5zM226 -5.5L231 0L226 5.5z"/>
<path class="t5" d="M233 -4H242V-5.5L246 0L242 5.5V4H233z"/>
<use href="#cL" class="t3"/><use href="#u5"/><use href="#cC" class="t5"/><use href="#mD"/><use href="#cE" class="t5"/><use href="#u6"/><use href="#cS" class="t5"/><use href="#cT" class="t5"/><use href="#cR" class="t5"/><use href="#u7"/><use href="#u8"/><use href="#u9"/><use href="#mY"/><use href="#mB" class="t5"/><use href="#mA" class="t5"/><use href="#mC" class="t5"/><use href="#mU"/><use href="#cZ"/>
<path class="tk" d="M198 -5V5M531 -5V5"/>
<text class="nm" x="193" y="3">G102</text>
</g>
<g id="G101" class="r t4" transform="translate(0,475)">
<path class="ln" d="M166 0H499M512 0H738"/>
<path d="M168 -5.5L174 0L168 5.5zM208 -5.5L203 0L208 5.5zM218 0L222 -5.5V-4H226V4H222V5.5zM226 -5.5L231 0L226 5.5zM255 -4H260V-5.5L264 0L260 5.5V4H255zM264 -4H270V-5.5L274 0L270 5.5V4H264z"/>
<path class="t5" d="M178 -4H185V-5.5L189 0L185 5.5V4H178zM198 -5.5L203 0L198 5.5zM233 -4H242V-5.5L246 0L242 5.5V4H233z"/>
<use href="#cL"/><use href="#u5"/><use href="#cC" class="t5"/><use href="#mD" class="t5"/><use href="#cE" class="t5"/><use href="#u6"/><use href="#cS" class="t5"/><use href="#cT" class="t5"/><use href="#cR" class="t5"/><use href="#u7" class="t5"/><use href="#u8" class="t5"/><use href="#u9"/><use href="#mY"/><use href="#mB" class="t5"/><use href="#mA" class="t5"/><use href="#mC"/><use href="#cZ"/><use href="#cY" class="t2"/><use href="#u11" class="t3"/><use href="#u12"/><use href="#mV"/><use href="#cA" class="t5"/><use href="#cB" class="t5"/><use href="#u13"/><use href="#cU"/><use href="#pA"/><use href="#pB"/><use href="#bB" class="t5"/><use href="#bA" class="t5"/><use href="#rT" class="t3"/><use href="#rE" class="t3"/><use href="#rF"/><use href="#pt"/>
<path class="tk" d="M166 -5V5M190 -5V5M499 -5V5M512 -5V5M738 -5V5"/>
<text class="nm" x="163" y="3">G101</text>
<text class="ns" x="742" y="3">E3</text>
</g>
<g id="E2" class="r t4" transform="translate(0,487)">
<path class="ln" d="M392 0H640"/>
<path d="M394 -5.5L398 0L394 5.5z"/>
<path class="t3" d="M398 -5.5L403 0L398 5.5z"/>
<use href="#u7" class="t2"/><use href="#u8" class="t2"/><use href="#u9" class="t2"/><use href="#mY" class="t3"/><use href="#mB" class="t5"/><use href="#mA" class="t5"/><use href="#mC" class="t5"/><use href="#mU" class="t3"/><use href="#cZ"/><use href="#cY" class="t2"/><use href="#u11"/><use href="#u12"/><use href="#mV" class="t3"/><use href="#cA" class="b5"/><use href="#cB" class="t5"/><use href="#u13"/><use href="#cU"/>
<path class="tk" d="M392 -5V5M640 -5V5"/>
<text class="nm" x="388" y="3">E2</text>
</g>
<g id="E7A" class="r t4" transform="translate(0,498)">
<path class="ln" d="M457 0H657"/>
<path d="M459 -5.5L463 0L459 5.5zM648 -4H651V-5.5L655 0L651 5.5V4H648z"/>
<use href="#mA" class="t5"/><use href="#mC" class="t5"/><use href="#mU" class="t3"/><use href="#cZ" class="t3"/><use href="#cY" class="t2"/><use href="#u11" class="t3"/><use href="#u12"/><use href="#mV" class="t3"/><use href="#cA" class="b5"/><use href="#cB" class="t5"/><use href="#u13"/><use href="#cU"/><use href="#pA"/>
<path class="tk" d="M457 -5V5M657 -5V5"/>
<text class="nm" x="453" y="3">E7A</text>
</g>

<g class="gl" transform="translate(0,546)">
<text transform="translate(212) rotate(-45)">unk1</text><text transform="translate(218) rotate(-45)">unk2B</text><text transform="translate(230) rotate(-45)">unk4</text><text transform="translate(240) rotate(-45)">aplA</text><text transform="translate(252) rotate(-45)">cpcL</text><text transform="translate(275) rotate(-45)">mpeE</text><text transform="translate(296) rotate(-45)">unk5</text><text transform="translate(313) rotate(-45)">cpeC</text><text transform="translate(340) rotate(-45)">mpeD</text><text transform="translate(364) rotate(-45)">cpeE</text><text transform="translate(376) rotate(-45)">unk6</text><text transform="translate(380) rotate(-45)">cpeS</text><text transform="translate(390) rotate(-45)">cpeT</text><text transform="translate(399) rotate(-45)">cpeR</text><text transform="translate(404) rotate(-45)">unk7</text><text transform="translate(409) rotate(-45)">unk8</text><text transform="translate(414) rotate(-45)">unk9</text><text transform="translate(436) rotate(-45)">mpeY</text><text transform="translate(453) rotate(-45)">mpeB</text><text transform="translate(462) rotate(-45)">mpeA</text><text transform="translate(483) rotate(-45)">mpeC</text><text transform="translate(502) rotate(-45)">mpeU</text><text transform="translate(516) rotate(-45)">cpeZ</text><text transform="translate(538) rotate(-45)">cpeY</text><text transform="translate(555) rotate(-45)">unk11</text><text transform="translate(561) rotate(-45)">unk12</text><text transform="translate(579) rotate(-45)">cpeF</text><text transform="translate(592) rotate(-45)">cpeA</text><text transform="translate(603) rotate(-45)">cpeB</text><text transform="translate(614) rotate(-45)">unk13</text><text transform="translate(621) rotate(-45)">cpeU</text><text transform="translate(637) rotate(-45)">pebA</text><text transform="translate(652) rotate(-45)">pebB</text><text transform="translate(667) rotate(-45)">cpcB</text><text transform="translate(678) rotate(-45)">cpcA</text><text transform="translate(690) rotate(-45)">rpcT</text>
</g>
<g id="E16A" class="r p5" transform="translate(0,552)">
<path class="ln" d="M197 0H709"/>
<path class="p3" d="M197 0L201 -5.5V-4H210V4H201V5.5zM218 0L222 -5.5V-4H228V4H222V5.5zM238 -4H246V-5.5L250 0L246 5.5V4H238zM270 -4H286V-5.5L290 0L286 5.5V4H270zM701 -5.5L707 0L701 5.5z"/>
<path d="M213 -5.5L218 0L213 5.5zM230 -4H234V-5.5L238 0L234 5.5V4H230zM251 -4H259V-5.5L263 0L259 5.5V4H251z"/>
<path class="p4" d="M294 -4H301V-5.5L305 0L301 5.5V4H294z"/>
<use href="#cC"/><use href="#mD"/><use href="#cE" class="p4"/><use href="#u6" class="p4"/><use href="#cS" class="p3"/><use href="#cT" class="p3"/><use href="#cR" class="p4"/><use href="#u7" class="p3"/><use href="#u8" class="p3"/><use href="#u9" class="p3"/><use href="#mY" class="xb"/><use href="#mB"/><use href="#mA"/><use href="#mC" class="p4"/><use href="#mU" class="p3"/><use href="#cZ" class="p4"/><use href="#cY" class="p3"/><use href="#u11" class="p1"/><use href="#u12" class="p3"/><use href="#mV" class="p4"/><use href="#cA"/><use href="#cB"/><use href="#u13" class="p4"/><use href="#cU"/><use href="#pA"/><use href="#pB" class="p4"/><use href="#bB"/><use href="#bA"/><use href="#rT" class="p3"/>
<path class="tk" d="M197 -5V5M709 -5V5"/>
<text class="nm" x="194" y="3">E16A</text>
</g>
<g id="G19A" class="r p5" transform="translate(0,563)">
<path class="ln" d="M214 0H441"/>
<path d="M214 -5.5L218 0L214 5.5zM230 -4H234V-5.5L238 0L234 5.5V4H230zM251 -4H259V-5.5L263 0L259 5.5V4H251z"/>
<path class="p3" d="M218 0L222 -5.5V-4H228V4H222V5.5zM238 -4H246V-5.5L250 0L246 5.5V4H238zM270 -4H286V-5.5L290 0L286 5.5V4H270z"/>
<path class="p4" d="M294 -4H301V-5.5L305 0L301 5.5V4H294z"/>
<use href="#cC"/><use href="#mD"/><use href="#cE" class="p4"/><use href="#u6" class="p4"/><use href="#cS" class="p4"/><use href="#cT" class="p4"/><use href="#cR"/><use href="#u7" class="p3"/><use href="#u8" class="p3"/><use href="#u9" class="p3"/>
<path class="xb" d="M428 -4H439V4H428z"/>
<path class="tk" d="M214 -5V5M441 -5V5"/>
<text class="nm" x="211" y="3">G19A</text>
</g>
<g id="G9B" class="r p5" transform="translate(0,575)">
<path class="ln" d="M402 0H695"/>
<use href="#u7"/><use href="#u8" class="p4"/><use href="#u9" class="p3"/><use href="#mY" class="xb"/><use href="#mB"/><use href="#mA"/><use href="#mC" class="p4"/><use href="#mU" class="p2"/><use href="#cZ" class="p4"/><use href="#cY" class="p3"/><use href="#u11" class="p3"/><use href="#u12" class="p4"/><use href="#mV"/><use href="#cA"/><use href="#cB"/><use href="#u13"/><use href="#cU"/><use href="#pA" class="p4"/><use href="#pB" class="p4"/><use href="#bB"/><use href="#bA"/>
<path d="M687 -5.5L692 0L687 5.5z"/>
<path class="tk" d="M402 -5V5M695 -5V5"/>
<text class="nm" x="399" y="3">G9B</text>
</g>
<path class="rx" d="M432 547l11 11m0-11l-11 11M432 558l11 11m0-11l-11 11M432 570l11 11m0-11l-11 11"/>

<g class="gl" transform="translate(0,624)">
<text transform="translate(361) rotate(-45)">cpeE</text><text transform="translate(373) rotate(-45)">unk6</text><text transform="translate(379) rotate(-45)">cpeS</text><text transform="translate(389) rotate(-45)">cpeT</text><text transform="translate(398) rotate(-45)">cpeR</text><text transform="translate(404) rotate(-45)">unk7</text><text transform="translate(409) rotate(-45)">unk8</text><text transform="translate(414) rotate(-45)">unk9</text><text transform="translate(432) rotate(-45)">mpeY</text><text transform="translate(453) rotate(-45)">mpeB</text><text transform="translate(462) rotate(-45)">mpeA</text><text transform="translate(480) rotate(-45)">mpeC</text><text transform="translate(501) rotate(-45)">mpeU</text><text transform="translate(516) rotate(-45)">cpeZ</text><text transform="translate(536) rotate(-45)">cpeY</text><text transform="translate(555) rotate(-45)">unk11</text><text transform="translate(560) rotate(-45)">unk12</text><text transform="translate(575) rotate(-45)">cpeF</text><text transform="translate(592) rotate(-45)">cpeA</text><text transform="translate(603) rotate(-45)">cpeB</text><text transform="translate(614) rotate(-45)">unk13</text><text transform="translate(620) rotate(-45)">cpeU</text><text transform="translate(637) rotate(-45)">pebA</text><text transform="translate(652) rotate(-45)">pebB</text><text transform="translate(667) rotate(-45)">cpcB</text><text transform="translate(678) rotate(-45)">cpcA</text><text transform="translate(690) rotate(-45)">rpcT</text><text transform="translate(703) rotate(-45)">rpcE</text><text transform="translate(716) rotate(-45)">rpcF</text><text transform="translate(728) rotate(-45)">ptpA</text>
</g>
<g class="gl" transform="translate(0,656)"><text transform="translate(311) rotate(-45)">cpeC</text><text transform="translate(334) rotate(-45)">mpeD</text></g>
<g id="A1" class="r t2" transform="translate(0,630)">
<path class="ln" d="M356 0H630"/>
<use href="#cE" class="t3"/><use href="#u6" class="p1"/><use href="#cS" class="p2"/><use href="#cT"/><use href="#cR" class="t3"/><use href="#u7" class="t1"/><use href="#u8" class="t1"/><use href="#u9" class="t1"/><use href="#mY"/><use href="#mB" class="b5"/><use href="#mA" class="b5"/><use href="#mC" class="g2"/><use href="#mU" class="xb"/><use href="#cZ" class="b1"/><use href="#cY" class="b1"/><use href="#u11" class="b1"/><use href="#u12" class="b1"/><use href="#mV" class="b2"/>
<path class="s5" d="M592 -4H597V-5.5L601 0L597 5.5V4H592z"/>
<use href="#cB" class="t5"/><use href="#u13" class="t4"/>
<path class="tk" d="M356 -5V5M630 -5V5"/>
<text class="nm" x="353" y="3">A1</text>
</g>
<g id="H102" class="r t4" transform="translate(0,641)">
<path class="ln" d="M434 0H740"/>
<path class="t2" d="M436 -4H446V-5.5L450 0L446 5.5V4H436z"/>
<use href="#mB" class="b5"/><use href="#mA" class="b5"/><use href="#mC" class="g2"/><use href="#mU" class="xb"/><use href="#cZ" class="b1"/><use href="#cY" class="b1"/><use href="#u11" class="b1"/><use href="#u12" class="b1"/><use href="#mV" class="b2"/>
<path class="s5" d="M592 -4H597V-5.5L601 0L597 5.5V4H592z"/>
<use href="#cB" class="t5"/><use href="#u13"/><use href="#cU"/><use href="#pA"/><use href="#pB"/><use href="#bB"/><use href="#bA"/><use href="#rT" class="t2"/><use href="#rE" class="t2"/><use href="#rF" class="t2"/><use href="#pt" class="t3"/>
<path class="tk" d="M434 -5V5M740 -5V5"/>
<text class="nm" x="431" y="3">H102</text>
</g>
<g id="H100" class="r b5" transform="translate(0,652)">
<path class="ln" d="M442 0H670"/>
<path d="M443 -5.5L448 0L443 5.5z"/>
<use href="#mB"/><use href="#mA"/><use href="#mC"/><use href="#mU" class="xb"/><use href="#cZ"/><use href="#cY"/><use href="#u11"/><use href="#u12"/><use href="#mV"/><use href="#cA"/><use href="#cB"/><use href="#u13"/><use href="#cU"/><use href="#pA"/><use href="#pB"/>
<path class="tk" d="M442 -5V5M670 -5V5"/>
<text class="nm" x="439" y="3">H100</text>
</g>
<g id="A2" class="r t2" transform="translate(0,662)">
<path class="ln" d="M305 0H603"/>
<use href="#cC" class="t5"/><use href="#mD" class="t4"/><use href="#cE" class="t3"/><use href="#u6" class="p1"/><use href="#cS"/><use href="#cT"/><use href="#cR" class="t4"/><use href="#u7" class="t1"/><use href="#u8" class="t1"/><use href="#u9" class="t1"/><use href="#mY"/><use href="#mB" class="b5"/><use href="#mA" class="t4"/><use href="#mC" class="g2"/><use href="#mU" class="xb"/><use href="#cZ" class="b1"/><use href="#cY" class="b1"/><use href="#u11" class="b1"/><use href="#u12" class="b1"/><use href="#mV" class="b2"/><use href="#cA" class="t5"/>
<path class="tk" d="M305 -5V5M603 -5V5"/>
<text class="nm" x="302" y="3">A2</text>
</g>
<path class="rx" d="M501 625l10 10m0-10l-10 10M501 636l10 10m0-10l-10 10M501 647l10 10m0-10l-10 10M501 657l10 10m0-10l-10 10"/>

<g class="gl" transform="translate(0,707)">
<text transform="translate(302) rotate(-45)">unk5</text><text transform="translate(312) rotate(-45)">cpeC</text><text transform="translate(338) rotate(-45)">mpeD</text><text transform="translate(362) rotate(-45)">cpeE</text><text transform="translate(374) rotate(-45)">unk6</text><text transform="translate(378) rotate(-45)">cpeS</text><text transform="translate(389) rotate(-45)">cpeT</text><text transform="translate(397) rotate(-45)">cpeR</text><text transform="translate(403) rotate(-45)">unk7</text><text transform="translate(409) rotate(-45)">unk8</text><text transform="translate(414) rotate(-45)">unk9</text><text transform="translate(432) rotate(-45)">mpeQ</text><text transform="translate(453) rotate(-45)">mpeB</text><text transform="translate(462) rotate(-45)">mpeA</text><text transform="translate(482) rotate(-45)">mpeC</text><text transform="translate(503) rotate(-45)">mpeU</text><text transform="translate(518) rotate(-45)">unk10</text><text transform="translate(530) rotate(-45)">cpeZ</text><text transform="translate(550) rotate(-45)">cpeY</text><text transform="translate(566) rotate(-45)">unk11</text><text transform="translate(573) rotate(-45)">unk12</text><text transform="translate(586) rotate(-45)">cpeA</text><text transform="translate(597) rotate(-45)">cpeB</text><text transform="translate(608) rotate(-45)">unk13</text><text transform="translate(616) rotate(-45)">cpeU</text><text transform="translate(633) rotate(-45)">pebA</text><text transform="translate(648) rotate(-45)">pebB</text><text transform="translate(664) rotate(-45)">cpcB</text><text transform="translate(675) rotate(-45)">cpcA</text><text transform="translate(686) rotate(-45)">rpcT</text><text transform="translate(698) rotate(-45)">rpcE</text><text transform="translate(711) rotate(-45)">rpcF</text>
</g>
<g class="gl" transform="translate(0,718)">
<text transform="translate(220) rotate(-45)">unk1</text><text transform="translate(226) rotate(-45)">unk2A</text><text transform="translate(239) rotate(-45)">unk3</text><text transform="translate(256) rotate(-45)">unk4</text><text transform="translate(264) rotate(-45)">aplA</text><text transform="translate(279) rotate(-45)">cpcL</text>
</g>
<g id="I6" class="r g5" transform="translate(0,713)">
<path class="ln" d="M300 0H725"/>
<path class="y3" d="M301 -5.5L305 0L301 5.5z"/>
<use href="#cC" class="y5"/><use href="#mD"/><use href="#cE" class="g4"/><use href="#u6" class="y4"/><use href="#cS" class="y5"/><use href="#cT"/><use href="#cR" class="y5"/><use href="#u7"/><use href="#u8"/><use href="#u9"/><use href="#mY"/><use href="#mB" class="y5"/><use href="#mA" class="y5"/><use href="#mC"/><use href="#cmU"/><use href="#cu10"/><use href="#ccZ"/><use href="#ccY"/><use href="#cu11"/><use href="#cu12"/><use href="#ccA" class="y5"/><use href="#ccB" class="y5"/><use href="#cu13"/><use href="#ccU" class="y5"/><use href="#cpA" class="y5"/><use href="#cpB" class="y5"/><use href="#cbB"/><use href="#cbA"/><use href="#crT"/><use href="#crE"/><use href="#crF"/>
<path class="tk" d="M300 -5V5M725 -5V5"/>
<text class="nm" x="297" y="3">I6</text>
</g>
<g id="C21" class="r g5" transform="translate(0,724)">
<path class="ln" d="M209 0H405"/>
<path class="b5" d="M211 -5.5L217 0L211 5.5z"/>
<path d="M218 0L222 -5.5V-4H227V4H222V5.5zM228 -4H249V-5.5L253 0L249 5.5V4H228zM255 -4H258V-5.5L262 0L258 5.5V4H255z"/>
<path class="g3" d="M262 -4H269V-5.5L273 0L269 5.5V4H262z"/>
<use href="#cL"/><use href="#u5"/><use href="#cC"/><use href="#mD"/><use href="#cE"/><use href="#u6"/><use href="#cS"/><use href="#cT"/><use href="#cR"/>
<path class="tk" d="M209 -5V5M405 -5V5"/>
<text class="nm" x="206" y="3">C21</text>
</g>
<g id="C101" class="r y5" transform="translate(0,735)">
<path class="ln" d="M300 0H613"/>
<path class="y4" d="M301 -5.5L305 0L301 5.5z"/>
<use href="#cC"/><use href="#mD"/><use href="#cE"/><use href="#u6"/><use href="#cS"/><use href="#cT"/><use href="#cR"/><use href="#u7"/><use href="#u8"/><use href="#u9"/><use href="#mY"/><use href="#mB"/><use href="#mA"/><use href="#mC"/><use href="#cmU"/><use href="#cu10"/><use href="#ccZ"/><use href="#ccY"/><use href="#cu11"/><use href="#cu12"/><use href="#ccA"/><use href="#ccB"/>
<path class="tk" d="M300 -5V5M613 -5V5"/>
<text class="nm" x="297" y="3">C101</text>
</g>
<g id="E102" class="r g1" transform="translate(0,746)">
<path class="ln" d="M386 0H734"/>
<path class="r1" d="M387 -5.5L392 0L387 5.5zM530 -4H534V-5.5L538 0L534 5.5V4H530z"/>
<path class="g3" d="M397 -5.5L393 0L397 5.5z"/>
<path class="r2" d="M427 -4H444V-5.5L448 0L444 5.5V4H427z"/>
<path d="M542 -4H563V-5.5L567 0L563 5.5V4H542zM570 -5.5L575 0L570 5.5zM698 -4H721V-5.5L725 0L721 5.5V4H698z"/>
<path class="y1" d="M577 -4H581V-5.5L585 0L581 5.5V4H577z"/>
<path class="t2" d="M645 -4H658V-5.5L662 0L658 5.5V4H645z"/>
<path class="p3" d="M683 -4H693V-5.5L697 0L693 5.5V4H683z"/>
<path class="r3" d="M725 -4H729V-5.5L733 0L729 5.5V4H725z"/>
<use href="#u7"/><use href="#u8" class="g2"/><use href="#u9" class="g2"/><use href="#mB" class="g4"/><use href="#mA" class="y5"/><use href="#mC" class="g3"/><use href="#cmU" class="r2"/><use href="#cu10" class="g3"/><use href="#ccA" class="r5"/><use href="#ccB" class="y5"/><use href="#cu13" class="y2"/><use href="#ccU" class="r2"/><use href="#cpA" class="p2"/><use href="#cbB" class="p5"/><use href="#cbA" class="g4"/>
<path class="tk" d="M386 -5V5M734 -5V5"/>
<text class="nm" x="383" y="3">E102</text>
</g>

<g class="gl" transform="translate(0,799)">
<text transform="translate(222) rotate(-45)">unk1</text><text transform="translate(227) rotate(-45)">unk2A</text><text transform="translate(232) rotate(-45)">unk3</text><text transform="translate(256) rotate(-45)">unk4</text><text transform="translate(264) rotate(-45)">aplA</text><text transform="translate(279) rotate(-45)">cpcL</text><text transform="translate(293) rotate(-45)">unk5</text><text transform="translate(312) rotate(-45)">cpeC</text><text transform="translate(338) rotate(-45)">mpeD</text><text transform="translate(362) rotate(-45)">cpeE</text><text transform="translate(374) rotate(-45)">unk6</text><text transform="translate(378) rotate(-45)">cpeS</text><text transform="translate(389) rotate(-45)">cpeT</text><text transform="translate(397) rotate(-45)">cpeR</text><text transform="translate(403) rotate(-45)">unk7</text><text transform="translate(409) rotate(-45)">unk8</text><text transform="translate(414) rotate(-45)">unk9</text><text transform="translate(432) rotate(-45)">mpeQ</text><text transform="translate(453) rotate(-45)">mpeB</text><text transform="translate(462) rotate(-45)">mpeA</text><text transform="translate(482) rotate(-45)">mpeC</text><text transform="translate(502) rotate(-45)">mpeU</text><text transform="translate(521) rotate(-45)">fciA</text>
</g>
<g class="gl" transform="translate(0,811)">
<text transform="translate(537) rotate(-45)">fciB</text><text transform="translate(562) rotate(-45)">mpeW</text><text transform="translate(587) rotate(-45)">unk10</text><text transform="translate(596) rotate(-45)">cpeZ</text><text transform="translate(617) rotate(-45)">cpeY</text><text transform="translate(636) rotate(-45)">unk11</text><text transform="translate(642) rotate(-45)">unk12</text><text transform="translate(656) rotate(-45)">cpeA</text><text transform="translate(667) rotate(-45)">cpeB</text><text transform="translate(679) rotate(-45)">unk13</text><text transform="translate(687) rotate(-45)">cpeU</text><text transform="translate(702) rotate(-45)">pebA</text><text transform="translate(717) rotate(-45)">pebB</text><text transform="translate(734) rotate(-45)">cpcB</text><text transform="translate(744) rotate(-45)">cpcA</text><text transform="translate(756) rotate(-45)">rpcT</text>
</g>
<g id="G8D" class="r r5" transform="translate(0,805)">
<path class="ln" d="M220 0H527"/>
<path class="b4" d="M219 -4H223V4H219z"/>
<path class="r4" d="M228 -5.5L224 0L228 5.5zM262 -4H268V-5.5L272 0L268 5.5V4H262z"/>
<path class="r3" d="M228 -4H248V-5.5L252 0L248 5.5V4H228z"/>
<path d="M253 -4H258V-5.5L262 0L258 5.5V4H253z"/>
<use href="#cL"/><use href="#u5"/><use href="#cC"/><use href="#mD"/><use href="#cE"/><use href="#u6"/><use href="#cS"/><use href="#cT"/><use href="#cR"/><use href="#u7"/><use href="#u8"/><use href="#u9"/><use href="#mY"/><use href="#mB"/><use href="#mA"/><use href="#mC"/><use href="#cmU" class="r4"/><use href="#cu10" class="r4"/>
<path class="tk" d="M527 -5V5"/>
<text class="nm" x="216" y="3">G8D</text>
</g>
<g id="I7" class="r r5" transform="translate(0,817)">
<path class="ln" d="M530 0H767"/>
<path d="M532 -4H553V-5.5L557 0L553 5.5V4H532zM558 -4H579V-5.5L583 0L579 5.5V4H558zM593 0L597 -5.5V-4H607V4H597V5.5zM608 0L612 -5.5V-4H635V4H612V5.5zM637 -5.5L643 0L637 5.5zM643 0L647 -5.5V-4H653V4H647V5.5zM655 0L659 -5.5V-4H665V4H659V5.5zM682 -5.5L686 0L682 5.5zM687 -4H696V-5.5L700 0L696 5.5V4H687zM700 -4H709V-5.5L713 0L709 5.5V4H700zM713 -4H726V-5.5L730 0L726 5.5V4H713zM733 -4H738V-5.5L742 0L738 5.5V4H733zM742 -4H748V-5.5L752 0L748 5.5V4H742z"/>
<path class="r4" d="M585 0L589 -5.5V-4H593V4H589V5.5z"/>
<path class="y5" d="M666 0L670 -5.5V-4H678V4H670V5.5z"/>
<path class="y4" d="M753 -4H761V-5.5L765 0L761 5.5V4H753z"/>
<path class="tk" d="M530 -5V5M767 -5V5"/>
<text class="nm" x="527" y="3">I7</text>
</g>
<g id="C100" class="r s1" transform="translate(0,828)">
<path class="ln" d="M450 0H692"/>
<use href="#mB" class="g5"/><use href="#mA" class="g4"/>
<path class="s3" d="M480 -4H491V-5.5L495 0L491 5.5V4H480zM588 -4H593V-5.5L597 0L593 5.5V4H588zM597 0L601 -5.5V-4H607V4H601V5.5z"/>
<path d="M498 -4H513V-5.5L517 0L513 5.5V4H498zM520 -4H536V-5.5L540 0L536 5.5V4H520zM540 -4H553V-5.5L557 0L553 5.5V4H540z"/>
<path class="xb" d="M560 -4H578V-5.5L582 0L578 5.5V4H560z"/>
<path class="r1" d="M610 -4H631V-5.5L635 0L631 5.5V4H610z"/>
<path class="g1" d="M637 0L641 -5.5V-4H645V4H641V5.5zM645 -4H649V-5.5L653 0L649 5.5V4H645z"/>
<path class="s5" d="M657 0L661 -5.5V-4H667V4H661V5.5z"/>
<path class="g4" d="M667 0L671 -5.5V-4H678V4H671V5.5z"/>
<path class="s2" d="M683 -5.5L688 0L683 5.5z"/>
<path class="tk" d="M450 -5V5M692 -5V5"/>
<text class="nm" x="447" y="3">C100</text>
</g>
<path class="rx" d="M566 823l10 10m0-10l-10 10"/>
<path d="M580 846L597 826L614 846" fill="none" stroke="#222" stroke-width=".8"/>
<path class="s1" d="M582 842H606V840.5L611 846L606 851.5V850H582z" stroke="#fff" stroke-width=".5"/>
<text x="595" y="848.5" style="font-size:7px;text-anchor:middle">rpcG</text>

<path class="tk" d="M572 859V866H767V859"/>
<text x="660" y="861" style="font-size:11px;text-anchor:middle">10 kb</text>

<!-- Legend -->
<path class="rx" d="M1 732l10 10m0-10l-10 10"/>
<text class="lg" x="19" y="733">Deleted gene or</text>
<text class="lg" x="19" y="748">pseudogene</text>
<g class="lg"><text x="5" y="776" style="font-size:10px;text-anchor:middle">60</text><text x="31" y="776" style="font-size:10px;text-anchor:middle">80</text><text x="55" y="776" style="font-size:10px;text-anchor:middle">100</text></g>
<g id="legend">
<rect class="b1" x="0" y="779" width="12.4" height="12.6"/><rect class="b2" x="12.3" y="779" width="12.4" height="12.6"/><rect class="b3" x="24.6" y="779" width="12.4" height="12.6"/><rect class="b4" x="36.9" y="779" width="12.4" height="12.6"/><rect class="b5" x="49.2" y="779" width="12.4" height="12.6"/>
<rect class="r1" x="0" y="791.5" width="12.4" height="12.6"/><rect class="r2" x="12.3" y="791.5" width="12.4" height="12.6"/><rect class="r3" x="24.6" y="791.5" width="12.4" height="12.6"/><rect class="r4" x="36.9" y="791.5" width="12.4" height="12.6"/><rect class="r5" x="49.2" y="791.5" width="12.4" height="12.6"/>
<rect class="y1" x="0" y="804" width="12.4" height="12.6"/><rect class="y2" x="12.3" y="804" width="12.4" height="12.6"/><rect class="y3" x="24.6" y="804" width="12.4" height="12.6"/><rect class="y4" x="36.9" y="804" width="12.4" height="12.6"/><rect class="y5" x="49.2" y="804" width="12.4" height="12.6"/>
<rect class="t1" x="0" y="816.5" width="12.4" height="12.6"/><rect class="t2" x="12.3" y="816.5" width="12.4" height="12.6"/><rect class="t3" x="24.6" y="816.5" width="12.4" height="12.6"/><rect class="t4" x="36.9" y="816.5" width="12.4" height="12.6"/><rect class="t5" x="49.2" y="816.5" width="12.4" height="12.6"/>
<rect class="p1" x="0" y="829" width="12.4" height="12.6"/><rect class="p2" x="12.3" y="829" width="12.4" height="12.6"/><rect class="p3" x="24.6" y="829" width="12.4" height="12.6"/><rect class="p4" x="36.9" y="829" width="12.4" height="12.6"/><rect class="p5" x="49.2" y="829" width="12.4" height="12.6"/>
<rect class="s1" x="0" y="841.5" width="12.4" height="12.6"/><rect class="s2" x="12.3" y="841.5" width="12.4" height="12.6"/><rect class="s3" x="24.6" y="841.5" width="12.4" height="12.6"/><rect class="s4" x="36.9" y="841.5" width="12.4" height="12.6"/><rect class="s5" x="49.2" y="841.5" width="12.4" height="12.6"/>
<rect class="g1" x="0" y="854" width="12.4" height="12.6"/><rect class="g2" x="12.3" y="854" width="12.4" height="12.6"/><rect class="g3" x="24.6" y="854" width="12.4" height="12.6"/><rect class="g4" x="36.9" y="854" width="12.4" height="12.6"/><rect class="g5" x="49.2" y="854" width="12.4" height="12.6"/>
<text class="lg" x="69" y="789">Clade I</text><text class="lg" x="69" y="801">Clade II</text><text class="lg" x="69" y="815">Clade III</text><text class="lg" x="69" y="827">Clade IV</text><text class="lg" x="69" y="841">Clade CRD1</text><text class="lg" x="69" y="853">Subcluster 5.3</text><text class="lg" x="69" y="866">Other clades</text>
</g>
</svg>
